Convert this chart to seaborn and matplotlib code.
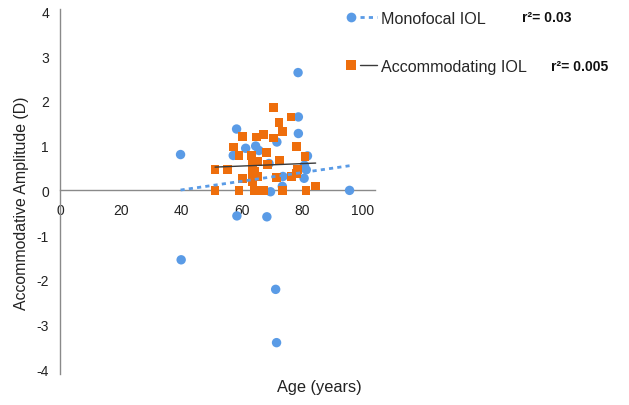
import numpy as np
import pandas as pd
import matplotlib
matplotlib.use("Agg")
import matplotlib.pyplot as plt
import seaborn as sns
from matplotlib.lines import Line2D
from matplotlib.legend_handler import HandlerTuple

# ---- data ----
mono_age = [39.8, 40.0, 58.3, 57.2, 61.3, 64.6, 65.7, 71.6, 78.6, 78.7, 78.7, 69.0,
            81.7, 80.7, 81.3, 80.6, 73.6, 73.4, 69.5, 95.6, 58.4, 68.3, 71.2, 71.5]
mono_amp = [0.80, -1.55, 1.37, 0.78, 0.94, 0.99, 0.89, 1.08, 2.63, 1.64, 1.27, 0.60,
            0.77, 0.56, 0.46, 0.27, 0.31, 0.09, -0.03, 0.00, -0.57, -0.59, -2.21, -3.40]

acc_age = [70.4, 76.3, 72.3, 73.4, 60.3, 65.0, 67.3, 70.4, 57.2, 78.2, 59.1, 63.3,
           68.1, 80.9, 65.4, 72.4, 68.4, 51.2, 55.3, 63.5, 64.4, 63.5, 65.1, 60.3,
           63.5, 71.4, 76.4, 78.3, 78.0, 84.4, 51.2, 59.1, 64.1, 67.1, 73.5, 81.2, 63.5]
acc_amp = [1.85, 1.64, 1.51, 1.32, 1.20, 1.19, 1.25, 1.17, 0.97, 0.98, 0.78, 0.78,
           0.84, 0.76, 0.65, 0.67, 0.57, 0.47, 0.47, 0.50, 0.42, 0.31, 0.31, 0.26,
           0.20, 0.29, 0.31, 0.46, 0.38, 0.10, 0.00, 0.00, 0.00, 0.00, 0.00, 0.00, 0.62]

# linear trend lines (slope, intercept)
mono_trend = [0.00972, -0.379]
acc_trend = [0.00271, 0.381]

series_labels = ["Monofocal IOL", "Accommodating IOL"]
r2_labels = ["r²= 0.03", "r²= 0.005"]
x_ticks = [0, 20, 40, 60, 80, 100]
y_ticks = [-4, -3, -2, -1, 0, 1, 2, 3, 4]
x_title = "Age (years)"
y_title = "Accommodative Amplitude (D)"

BLUE = "#5A9BE6"
ORANGE = "#EE6E0C"
AXIS = "#8A8A8A"
TREND_DARK = "#3a3a3a"

sns.set_theme(style="white")
plt.rcParams["font.family"] = ["Liberation Sans", "DejaVu Sans"]
plt.rcParams["axes.unicode_minus"] = False

mono = pd.DataFrame({"age": mono_age, "amp": mono_amp})
acc = pd.DataFrame({"age": acc_age, "amp": acc_amp})


def trend_frame(ages, coef):
    xs = np.array([min(ages), max(ages)])
    return pd.DataFrame({"age": xs, "amp": coef[0] * xs + coef[1]})


fig = plt.figure(figsize=(6.29, 4.06), dpi=100)
ax = fig.add_axes([60 / 629, 1 - 375 / 406, 315 / 629, 365 / 406])

sns.scatterplot(data=mono, x="age", y="amp", ax=ax, color=BLUE, marker="o",
                s=46, edgecolor="none", linewidth=0, zorder=3, legend=False)
sns.scatterplot(data=acc, x="age", y="amp", ax=ax, color=ORANGE, marker="s",
                s=40, edgecolor="none", linewidth=0, zorder=4, legend=False)
sns.lineplot(data=trend_frame(mono_age, mono_trend), x="age", y="amp", ax=ax,
             color=BLUE, lw=2, ls=(0, (1.5, 1.5)), zorder=5, legend=False)
sns.lineplot(data=trend_frame(acc_age, acc_trend), x="age", y="amp", ax=ax,
             color=TREND_DARK, lw=1, zorder=5, legend=False)

ax.set_xlim(0, 104)
ax.set_ylim(-4.1, 4.05)
ax.set_xticks(x_ticks)
ax.set_yticks(y_ticks)
ax.set_xlabel("")
ax.set_ylabel("")
for s in ["top", "right"]:
    ax.spines[s].set_visible(False)
ax.spines["bottom"].set_position(("data", 0))
for s in ["left", "bottom"]:
    ax.spines[s].set_color(AXIS)
    ax.spines[s].set_linewidth(1)
ax.tick_params(axis="both", length=0, labelsize=10, colors="#222222")
ax.tick_params(axis="x", pad=9)
ax.tick_params(axis="y", pad=8)
ax.grid(False)

fig.text(22 / 629, 1 - 203 / 406, y_title, rotation=90, ha="center", va="center",
         fontsize=11.4, color="#222222")
fig.text(319 / 629, 1 - 388 / 406, x_title, ha="center", va="center",
         fontsize=11.8, color="#222222")

handles = [
    (Line2D([], [], marker="o", ls="none", color=BLUE, markersize=7, markeredgewidth=0),
     Line2D([], [], color=BLUE, lw=2, ls=(0, (1.5, 1.5)))),
    (Line2D([], [], marker="s", ls="none", color=ORANGE, markersize=6.5, markeredgewidth=0),
     Line2D([], [], color=TREND_DARK, lw=1)),
]
fig.legend(handles, series_labels, loc="upper left",
           bbox_to_anchor=(343 / 629, 1 - 12 / 406), frameon=False,
           handler_map={tuple: HandlerTuple(ndivide=None, pad=0.0)},
           handlelength=2.1, handletextpad=0.25, labelspacing=2.05,
           borderpad=0, borderaxespad=0, prop={"size": 11.6})

fig.text(522 / 629, 1 - 18 / 406, r2_labels[0], ha="left", va="center",
         fontsize=10, fontweight="bold", color="#111111")
fig.text(551 / 629, 1 - 67 / 406, r2_labels[1], ha="left", va="center",
         fontsize=10, fontweight="bold", color="#111111")

fig.savefig("out.png", dpi=100)
